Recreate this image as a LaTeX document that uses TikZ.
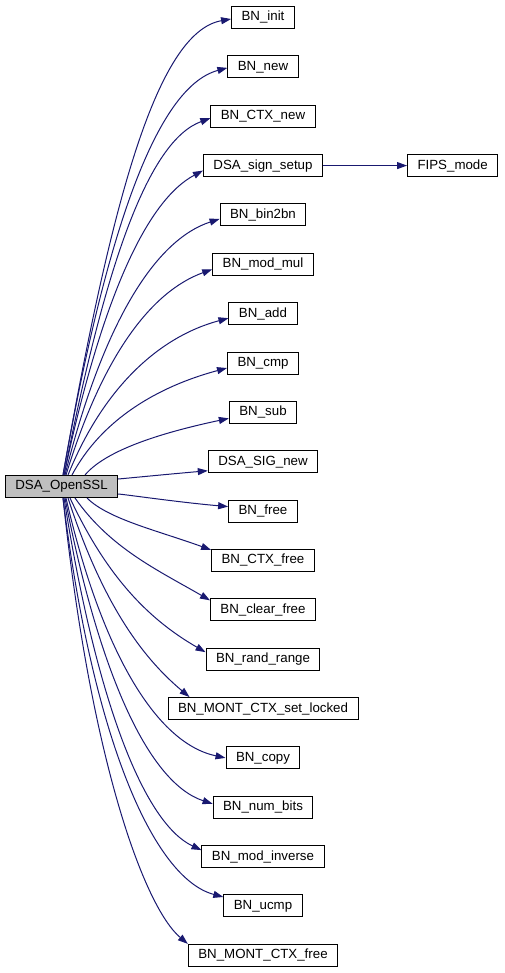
\documentclass[tikz,border=0pt]{standalone}
\usepackage{fontspec}
\setmainfont{Liberation Sans}
\usetikzlibrary{positioning,arrows.meta}
\definecolor{callblue}{RGB}{25,25,112}
\definecolor{rootgrey}{RGB}{191,191,191}

\begin{document}
\begin{tikzpicture}[x=1pt, y=1pt, node distance=26.36pt,
  fn/.style={draw=black, line width=1pt, fill=white, minimum height=22pt, inner xsep=10pt, inner ysep=0pt, font=\fontsize{13.3}{15}\selectfont},
  call/.style={draw=callblue, line width=1pt, -{Triangle[length=10pt,width=7pt,fill=callblue]}}]
  \useasboundingbox (0,0) rectangle (504,-973);
  % caller
  \node[fn, fill=rootgrey] (root) at (61.5,-486.5) {DSA\_OpenSSL};
  % callees, one column
  \node[fn] (init) at (263,-17.5) {BN\_init};
  \node[fn, below=of init] (new) {BN\_new};
  \node[fn, below=of new] (ctxnew) {BN\_CTX\_new};
  \node[fn, below=of ctxnew] (sgs) {DSA\_sign\_setup};
  \node[fn, right=84pt of sgs] (fips) {FIPS\_mode};
  \node[fn, below=of sgs] (bin) {BN\_bin2bn};
  \node[fn, below=of bin] (modmul) {BN\_mod\_mul};
  \node[fn, below=of modmul] (add) {BN\_add};
  \node[fn, below=of add] (cmp) {BN\_cmp};
  \node[fn, below=of cmp] (sub) {BN\_sub};
  \node[fn, below=of sub] (signew) {DSA\_SIG\_new};
  \node[fn, below=of signew] (free) {BN\_free};
  \node[fn, below=of free] (ctxfree) {BN\_CTX\_free};
  \node[fn, below=of ctxfree] (clearfree) {BN\_clear\_free};
  \node[fn, below=of clearfree] (randrange) {BN\_rand\_range};
  \node[fn, below=of randrange] (setlocked) {BN\_MONT\_CTX\_set\_locked};
  \node[fn, below=of setlocked] (copy) {BN\_copy};
  \node[fn, below=of copy] (numbits) {BN\_num\_bits};
  \node[fn, below=of numbits] (modinv) {BN\_mod\_inverse};
  \node[fn, below=of modinv] (ucmp) {BN\_ucmp};
  \node[fn, below=of ucmp] (montfree) {BN\_MONT\_CTX\_free};
  % calls going up
  \draw[call] ([xshift=1.5pt]root.north) .. controls +(80:274) and +(190:76) .. ([yshift=-1.5pt]init.west);
  \draw[call] ([xshift=1.5pt]root.north) .. controls +(80:244) and +(195:74) .. ([yshift=-1pt]new.west);
  \draw[call] ([xshift=2.5pt]root.north) .. controls +(79:214) and +(200:66) .. ([yshift=-2pt]ctxnew.west);
  \draw[call] ([xshift=2.5pt]root.north) .. controls +(78:183) and +(208:63) .. ([yshift=-5pt]sgs.west);
  \draw[call] ([xshift=3.5pt]root.north) .. controls +(76:154) and +(198:69) .. ([yshift=-4pt]bin.west);
  \draw[call] ([xshift=4.5pt]root.north) .. controls +(73:123) and +(200:66) .. ([yshift=-5pt]modmul.west);
  \draw[call] ([xshift=6.5pt]root.north) .. controls +(68:94) and +(195:72) .. ([yshift=-4.5pt]add.west);
  \draw[call] ([xshift=10.5pt]root.north) .. controls +(62:64) and +(195:70) .. ([yshift=-5pt]cmp.west);
  \draw[call] ([xshift=23.5pt]root.north) .. controls +(50:34) and +(192:64) .. ([yshift=-6pt]sub.west);
  \draw[call] ([yshift=7.5pt]root.east) .. controls +(5:10) and +(185:40) .. ([yshift=-9pt]signew.west);
  % calls going down
  \draw[call] ([yshift=-7.5pt]root.east) .. controls +(-5:10) and +(175:49) .. ([yshift=4.5pt]free.west);
  \draw[call] ([xshift=25.5pt]root.south) .. controls +(-45:30) and +(160:56) .. ([yshift=-1pt]ctxfree.north west);
  \draw[call] ([xshift=13.5pt]root.south) .. controls +(-55:61) and +(150:61) .. ([yshift=-2pt]clearfree.north west);
  \draw[call] ([xshift=8.5pt]root.south) .. controls +(-65:92) and +(150:61) .. ([yshift=-4.5pt]randrange.north west);
  \draw[call] ([xshift=6.5pt]root.south) .. controls +(-72:119) and +(140:55) .. ([xshift=22pt]setlocked.north west);
  \draw[call] ([xshift=4.5pt]root.south) .. controls +(-77:155) and +(168:72) .. (copy.west);
  \draw[call] ([xshift=3.5pt]root.south) .. controls +(-79:183) and +(162:66) .. ([yshift=3.5pt]numbits.west);
  \draw[call] ([xshift=2.5pt]root.south) .. controls +(-81:211) and +(155:62) .. ([yshift=6.5pt]modinv.west);
  \draw[call] ([xshift=1.5pt]root.south) .. controls +(-83:244) and +(165:72) .. ([yshift=9pt]ucmp.west);
  \draw[call] ([xshift=1.5pt]root.south) .. controls +(-84:267) and +(140:56) .. (montfree.north west);
  \draw[call] (sgs) -- (fips);
\end{tikzpicture}
\end{document}
